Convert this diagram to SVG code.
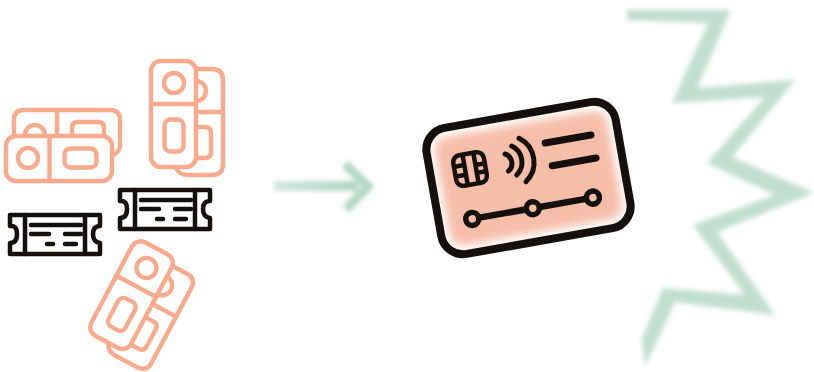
<svg xmlns="http://www.w3.org/2000/svg" xmlns:xlink="http://www.w3.org/1999/xlink" width="814" height="372" viewBox="0 0 814 372">
<style>
.p{fill:none;stroke:#f9a98c;stroke-width:4.400;stroke-linecap:round;stroke-linejoin:round}
.k{fill:none;stroke:#14100d;stroke-width:4.500;stroke-linecap:round;stroke-linejoin:round}
.c{fill:none;stroke:#14100d;stroke-width:5;stroke-linecap:round;stroke-linejoin:round}
</style>
<defs>
<filter id="b2" x="-10%" y="-10%" width="120%" height="120%"><feGaussianBlur stdDeviation="2.400"/></filter>
<filter id="b1" x="-20%" y="-40%" width="140%" height="180%"><feGaussianBlur stdDeviation="2"/></filter>
<filter id="b5" x="-10%" y="-10%" width="120%" height="120%"><feGaussianBlur stdDeviation="5"/></filter>
<linearGradient id="ag" gradientUnits="userSpaceOnUse" x1="274" y1="0" x2="372" y2="0"><stop offset="0" stop-color="#a6d0bb" stop-opacity=".5"/><stop offset=".85" stop-color="#a6d0bb" stop-opacity=".9"/></linearGradient>
<g id="vt">
<rect x="151" y="61" width="45" height="106" rx="10"/>
<path d="M151 104H196"/>
<circle cx="174" cy="83" r="10"/>
<rect x="164.500" y="119.500" width="19" height="32" rx="6"/>
<path d="M196 69H212Q223 69 223 80V164Q223 175 212 175H188Q179 175 176 168"/>
<path d="M196 112H223"/>
<path d="M196 81A10 10 0 0 1 196 101"/>
<path d="M196 127H205Q211 127 211 133V152Q211 158 205 158H196"/>
</g>
<g id="kt">
<path d="M10 215H100V226Q93 226 93 234T100 243V254H10V243Q17 243 17 234T10 226Z"/>
<path d="M25 215V254M85 215V254"/>
<path d="M31 225H81M31 234H49M65 234H81M47 244H53M65 244H76"/>
</g>
</defs>
<g id="ticket-pink-horizontal" class="p">
<path d="M14 135V120Q14 110 24 110H110Q120 110 120 120V145Q120 152 113 155"/>
<path d="M57 110V135"/>
<path d="M25 135A10 10 0 0 1 45 135"/>
<path d="M72 135V128Q72 122 78 122H98Q104 122 104 128V135"/>
<rect x="6" y="136" width="106" height="45" rx="10"/>
<path d="M49.500 136V181"/>
<circle cx="28" cy="158" r="10"/>
<rect x="64.500" y="148.500" width="32" height="19" rx="6"/>
</g>
<g id="ticket-pink-vertical" class="p"><use xlink:href="#vt" href="#vt"/></g>
<g id="ticket-pink-tilted" class="p"><use xlink:href="#vt" href="#vt" transform="translate(146.500 268) rotate(28) translate(-174 -83)"/></g>
<g id="ticket-black-1" class="k"><use xlink:href="#kt" href="#kt"/></g>
<g id="ticket-black-2" class="k"><use xlink:href="#kt" href="#kt" transform="translate(110 -25)"/></g>
<g id="connectors">
<g filter="url(#b1)">
<path d="M274 186H358" fill="none" stroke="url(#ag)" stroke-width="10"/>
<path d="M345 164L368 186.500L346 209" fill="none" stroke="#a6d0bb" stroke-opacity=".85" stroke-width="9"/>
</g>
</g>
<g id="card">
<g transform="rotate(-10 528.500 178)">
<clipPath id="cc"><rect x="432.500" y="114" width="192" height="128" rx="22"/></clipPath>
<g clip-path="url(#cc)"><rect x="441" y="123" width="175" height="110" rx="14" fill="#f6bda8" filter="url(#b5)"/></g>
<rect x="432.500" y="114" width="192" height="128" rx="22" fill="none" stroke="#14100d" stroke-width="8"/>
<g class="k" transform="translate(472.500 159)">
<rect x="-15.500" y="-15.500" width="31" height="31" rx="7"/>
<path d="M-5 -15V15M6 -15V15M-15 -5H-5M-15 5H-5M6 -3H15M6 5H15"/>
</g>
<path class="c" style="stroke-width:7" d="M551 146.500H597.500M554 170H598.500"/>
<path class="c" style="stroke-width:6.500" d="M466 208.500H588.500"/>
<g fill="#f6bda8" stroke="#14100d" stroke-width="5.500">
<circle cx="466" cy="208.500" r="6.500"/>
<circle cx="527.500" cy="208.500" r="6.500"/>
<circle cx="588.500" cy="208.500" r="6.500"/>
</g>
</g>
<g class="c">
<path d="M505 154A10 10 0 0 1 508.500 171"/>
<path d="M511.700 146A18 18 0 0 1 516.700 175"/>
<path d="M519 138.300A27 27 0 0 1 526 181.700"/>
</g>
</g>
<g id="burst">
<path filter="url(#b2)" fill="#a8d1bc" fill-opacity=".72" d="M627 10H731L697 88L795 80L732 157L814 193L717 232L775 315L675 302L645 367L642 338L663 288L745 295L693 225L775 195L707 163L765 97L672 103L708 23L627 20Z"/>
</g>
</svg>
